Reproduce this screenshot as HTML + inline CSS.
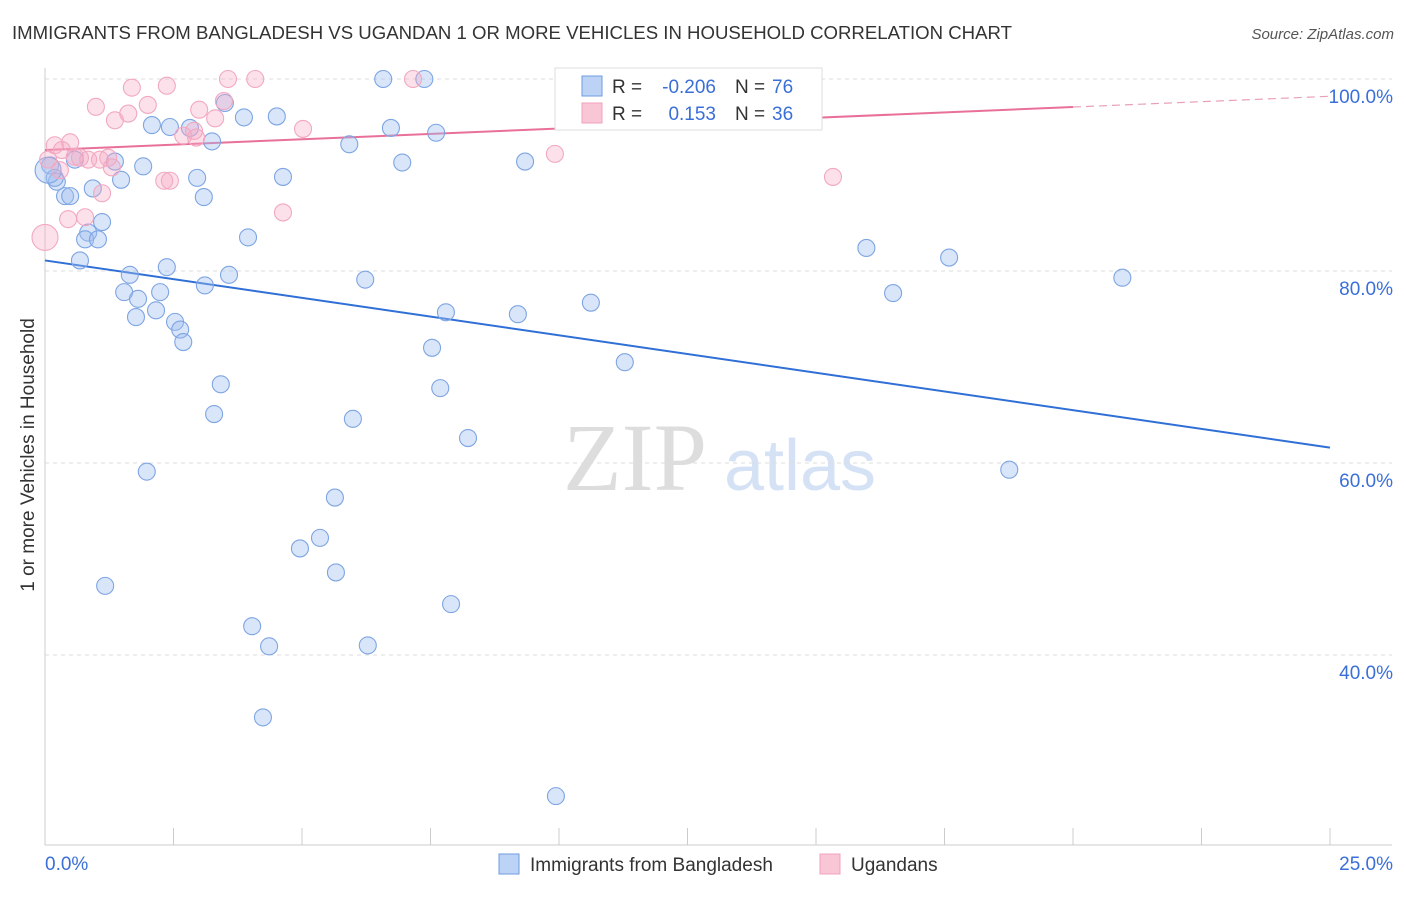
<!DOCTYPE html>
<html><head><meta charset="utf-8"><style>
body{margin:0;background:#fff;font-family:"Liberation Sans",sans-serif}
</style></head><body>
<svg width="1406" height="892" xmlns="http://www.w3.org/2000/svg" font-family="Liberation Sans, sans-serif">
<text x="12" y="39" font-size="18" fill="#333" textLength="1000" lengthAdjust="spacingAndGlyphs">IMMIGRANTS FROM BANGLADESH VS UGANDAN 1 OR MORE VEHICLES IN HOUSEHOLD CORRELATION CHART</text>
<text x="1394" y="39" font-size="15" fill="#555" font-style="italic" text-anchor="end">Source: ZipAtlas.com</text>
<g><text x="635" y="490" font-size="96" font-family="Liberation Serif, serif" fill="#ddd" text-anchor="middle">ZIP</text><text x="800" y="490" font-size="72" fill="#d5e2f5" text-anchor="middle">atlas</text></g>
<g id="grid"></g>
<g id="axes"></g>
<g id="trends"></g>
<g id="pts"></g>
<text transform="translate(34,455) rotate(-90)" font-size="19" fill="#333" text-anchor="middle">1 or more Vehicles in Household</text>
<g>
<rect x="555" y="68" width="267" height="62" fill="#fff" stroke="#ddd"/>
<rect x="582" y="76" width="20" height="20" fill="#bcd3f5" stroke="#6f9be0"/>
<rect x="582" y="103" width="20" height="20" fill="#f9c6d6" stroke="#f0a0bc"/>
<text x="612" y="93" font-size="19" fill="#333">R =</text>
<text x="716" y="93" font-size="19" fill="#3a6fd8" text-anchor="end">-0.206</text>
<text x="735" y="93" font-size="19" fill="#333">N =</text>
<text x="772" y="93" font-size="19" fill="#3a6fd8">76</text>
<text x="612" y="120" font-size="19" fill="#333">R =</text>
<text x="716" y="120" font-size="19" fill="#3a6fd8" text-anchor="end">0.153</text>
<text x="735" y="120" font-size="19" fill="#333">N =</text>
<text x="772" y="120" font-size="19" fill="#3a6fd8">36</text>
</g>
<g>
<rect x="499" y="854" width="20" height="20" fill="#bcd3f5" stroke="#6f9be0"/>
<text x="530" y="871" font-size="19" fill="#333">Immigrants from Bangladesh</text>
<rect x="820" y="854" width="20" height="20" fill="#f9c6d6" stroke="#f0a0bc"/>
<text x="851" y="871" font-size="19" fill="#333">Ugandans</text>
</g>
</svg>
<script>
const yTicks=[100,80,60,40];
const xTickLabels=["0.0%","25.0%"];
const blueX=[6.58,7.38,2.08,2.43,2.82,3.50,3.87,4.51,6.73,7.61,3.25,5.92,0.10,0.58,1.36,1.91,1.48,0.23,0.93,0.39,0.49,2.96,3.09,4.63,6.95,9.34,1.11,0.84,0.78,1.03,3.95,0.68,2.37,1.65,3.58,3.11,6.23,1.54,2.24,1.81,2.16,1.77,2.53,2.63,2.69,7.80,9.20,10.62,7.53,11.28,3.42,7.69,3.29,5.99,8.23,1.98,5.64,5.35,4.96,5.66,1.17,7.90,4.03,4.36,6.28,4.24,9.94,15.98,17.59,16.50,20.96,18.76,0.19,0.06];
const blueY=[100,100,95.2,95.0,94.9,97.5,96.0,96.1,94.9,94.4,93.5,93.2,91.0,91.6,91.4,90.9,89.5,89.3,88.6,87.8,87.8,89.7,87.7,89.8,91.3,91.4,85.1,84.0,83.3,83.3,83.5,81.1,80.4,79.6,79.6,78.5,79.1,77.8,77.8,77.1,75.9,75.2,74.7,73.9,72.6,75.7,75.5,76.7,72.0,70.5,68.2,67.8,65.1,64.6,62.6,59.1,56.4,52.2,51.1,48.6,47.2,45.3,43.0,40.9,41.0,33.5,25.3,82.4,81.4,77.7,79.3,59.3,89.7,90.5];
const pinkX=[0,0.19,0.49,0.33,0.58,0.84,1.07,1.23,1.30,1.11,0.45,0.78,0.99,1.36,1.62,1.69,2.00,2.37,2.32,2.43,2.69,2.94,3.00,3.31,3.48,3.56,4.09,5.02,4.63,7.16,9.92,15.33,2.90,0.06,0.68,0.29];
const pinkY=[83.5,93.1,93.4,92.6,91.9,91.6,91.6,91.8,90.8,88.1,85.4,85.6,97.1,95.7,96.4,99.1,97.3,99.3,89.4,89.4,94.1,93.9,96.8,95.9,97.7,100,100,94.8,86.1,100,92.2,89.8,94.6,91.6,91.8,90.5];
const blueTrend=[81.1,61.6];
const pinkTrend=[92.6,98.2];
const NS="http://www.w3.org/2000/svg";
const X0=45,X1=1330;
const xs=v=>X0+(X1-X0)*v/25;
const ys=v=>79+(100-v)*9.6;
function mk(p,t,a){const e=document.createElementNS(NS,t);for(const k in a)e.setAttribute(k,a[k]);document.getElementById(p).appendChild(e);return e;}
yTicks.forEach(t=>{
 const l=mk('grid','line',{x1:X0,x2:1392,y1:ys(t),y2:ys(t),stroke:'#ddd','stroke-dasharray':'4,4'});
 
 
 const tx=mk('grid','text',{x:1393,y:ys(t)+24,'font-size':19,fill:'#3a6fd8','text-anchor':'end'});
 tx.textContent=t.toFixed(1)+'%';
 
 
});
mk('axes','line',{x1:X0,x2:X0,y1:68,y2:845,stroke:'#ccc'});
mk('axes','line',{x1:X0,x2:1392,y1:845,y2:845,stroke:'#ccc'});
for(let i=0;i<=10;i++){mk('axes','line',{x1:xs(i*2.5),x2:xs(i*2.5),y1:828,y2:845,stroke:'#ccc'});}
const t0=mk('axes','text',{x:45,y:870,'font-size':19,fill:'#3a6fd8'});t0.textContent=xTickLabels[0];


const t1=mk('axes','text',{x:1393,y:870,'font-size':19,fill:'#3a6fd8','text-anchor':'end'});t1.textContent=xTickLabels[1];


function pts(X,Y,fill,stroke,name,big){X.forEach((x,i)=>{
 let r=8.5;if(big(x,Y[i]))r=13;
 const c=mk('pts','circle',{cx:xs(x),cy:ys(Y[i]),r:r,fill:fill,stroke:stroke,'stroke-width':1.1});
 
 
});}
pts(blueX,blueY,'rgba(160,190,240,0.4)','#7ea5e3','blue-point',(x,y)=>x<0.1&&y>90);
pts(pinkX,pinkY,'rgba(245,170,195,0.35)','#f2a8c1','pink-point',(x,y)=>x===0);
const bl=mk('trends','line',{x1:xs(0),y1:ys(blueTrend[0]),x2:xs(25),y2:ys(blueTrend[1]),stroke:'#2f6fd6','stroke-width':2});


const pAt=v=>pinkTrend[0]+(pinkTrend[1]-pinkTrend[0])*v/25;
const pl=mk('trends','line',{x1:xs(0),y1:ys(pAt(0)),x2:xs(20),y2:ys(pAt(20)),stroke:'#e8709a','stroke-width':2});


const pd=mk('trends','line',{x1:xs(20),y1:ys(pAt(20)),x2:xs(25),y2:ys(pAt(25)),stroke:'#e8a0b8','stroke-width':1.2,'stroke-dasharray':'8,5'});


</script>
</body></html>
